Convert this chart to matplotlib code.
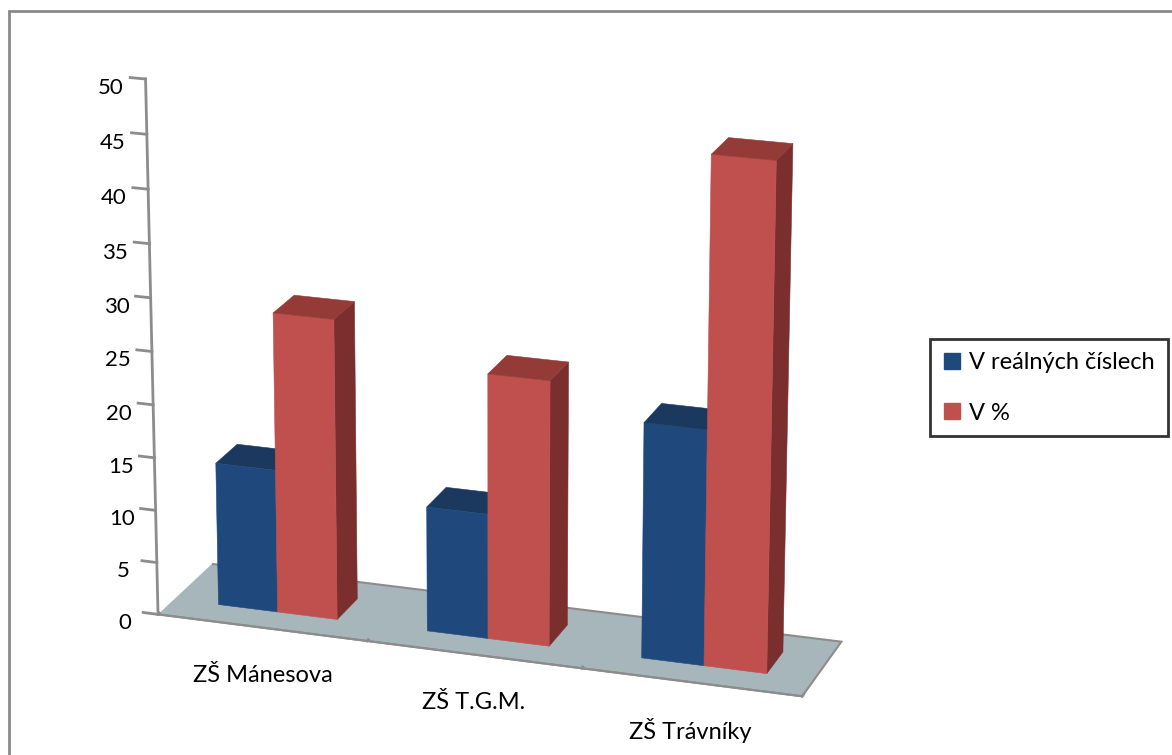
import numpy as np
import matplotlib
matplotlib.use('Agg')
import matplotlib.pyplot as plt
from matplotlib.patches import Rectangle
from matplotlib.lines import Line2D

categories = ['ZŠ Mánesova', 'ZŠ T.G.M.', 'ZŠ Trávníky']
series_names = ['V reálných číslech', 'V %']
real_counts = [13.6, 11.8, 22]
percent = [28.4, 24.9, 46.8]
z_ticks = list(range(0, 51, 5))

plt.rcParams['font.family'] = ['Lato', 'DejaVu Sans']

fig = plt.figure(figsize=(11.72, 7.55), dpi=100)
ax = fig.add_axes([0.0257, 0.005, 0.78, 1.0], projection='3d', proj_type='persp', focal_length=1.25)
ax.view_init(elev=19, azim=-71.5)
ax.set_box_aspect((3, 0.66, 2.5), zoom=1.16)

w = 1 / 3.5
y0, dy = 0.3, 0.4
blue = dict(top='#1B385E', front='#1F497D', right='#18385F')
red = dict(top='#943A37', front='#C0504D', right='#7A2E2D')
none = (0, 0, 0, 0)

for vals, off, col in [(real_counts, 0.75, blue), (percent, 1.75, red)]:
    n = len(vals)
    xs = np.arange(n) + off * w
    faces = []
    for _ in range(n):
        faces += [none, col['top'], col['front'], none, none, col['right']]
    ax.bar3d(xs, np.full(n, y0), np.zeros(n), np.full(n, w), np.full(n, dy), vals,
             color=faces, shade=False, edgecolor=faces, linewidth=0.4)

ax.set_xlim(0, 3)
ax.set_ylim(0, 1)
ax.set_zlim(0, 50)
ax.grid(False)
ax.xaxis.set_pane_color((1, 1, 1, 0))
ax.yaxis.set_pane_color((1, 1, 1, 0))
ax.zaxis.set_pane_color('#A7B6BB')
ax.xaxis.pane.set_edgecolor((1, 1, 1, 0))
ax.yaxis.pane.set_edgecolor((1, 1, 1, 0))
ax.zaxis.pane.set_edgecolor('#8C8C8C')
ax.zaxis.pane.set_linewidth(1.5)
ax.set_xticks([0, 1, 2, 3])
ax.set_xticklabels([])
ax.set_yticks([])
ax.set_zticks(z_ticks)
ax.zaxis.set_ticks_position('lower')
ax.zaxis._get_tickdir = lambda position: 0
ax.xaxis.line.set_color('#8C8C8C')
ax.xaxis.line.set_linewidth(1.5)
ax.yaxis.line.set_color((1, 1, 1, 0))
ax.zaxis.line.set_color('#8C8C8C')
ax.zaxis.line.set_linewidth(2)
for a in (ax.xaxis, ax.zaxis):
    a._axinfo['tick']['inward_factor'] = 0.0
    a._axinfo['tick']['outward_factor'] = 0.3
    a._axinfo['tick']['linewidth'] = {True: 2, False: 1}
ax.tick_params(axis='both', color='#8C8C8C', width=2, labelsize=16, pad=6)

for i, c in enumerate(categories):
    ax.text(i + 0.5, 0, -4.6, c, ha='center', va='center', fontsize=17)

handles = [Line2D([], [], marker='s', ls='none', markersize=11, color=blue['front']),
           Line2D([], [], marker='s', ls='none', markersize=11, color=red['front'])]
leg = fig.legend(handles, series_names, loc='upper left', bbox_to_anchor=(930 / 1172, 1 - 339 / 755),
                 borderaxespad=0, fontsize=17, frameon=True, fancybox=False, labelspacing=1.25,
                 handletextpad=0.3, handlelength=0.8, borderpad=0.55)
leg.get_frame().set_edgecolor('black')
leg.get_frame().set_linewidth(2)

fig.patches.append(Rectangle((9 / 1172, -0.1), 1.2, (755 - 11) / 755 + 0.1, transform=fig.transFigure,
                             fill=False, edgecolor='#8A8A8A', linewidth=2))

fig.savefig('out.png', dpi=100)
